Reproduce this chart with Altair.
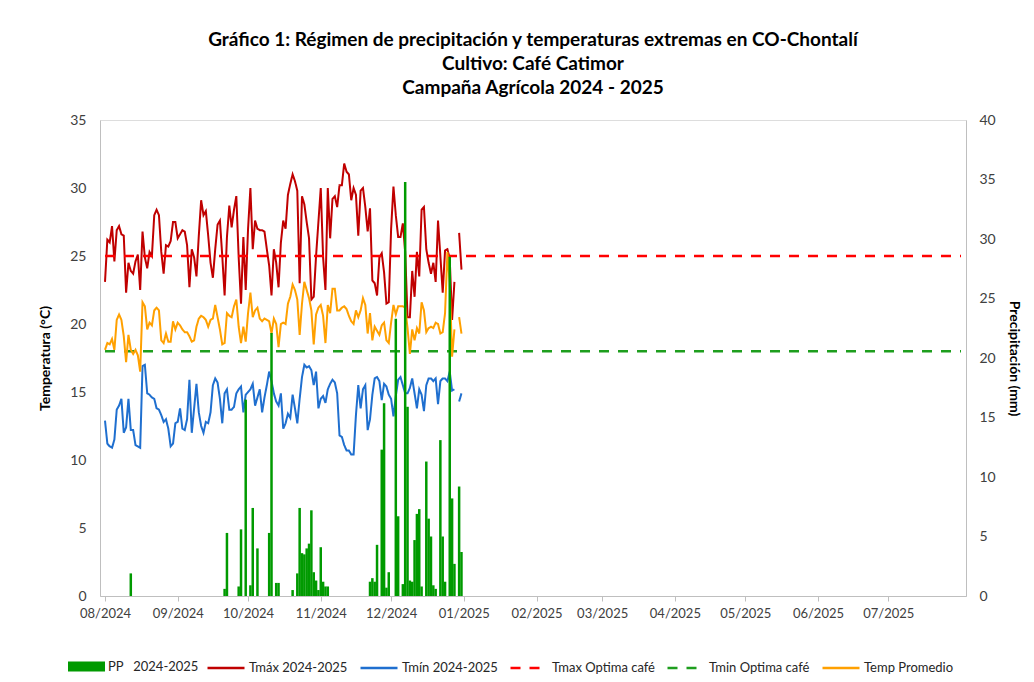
import altair as alt
import pandas as pd

# ---------------- data (daily, 1 Aug 2024 .. 31 Dec 2024) ----------------
start_date = "2024-08-01"

tmax = [23.1, 26.2, 26.0, 27.2, 24.6, 26.9, 27.2, 26.6, 26.5, 22.3,
        24.5, 23.9, 23.7, 24.6, 25.1, 22.5, 26.8, 24.9, 24.1, 25.3,
        25.0, 28.0, 28.4, 28.0, 25.3, 23.7, 25.8, 25.7, 26.1, 27.5,
        27.5, 26.3, 26.6, 26.9, 26.8, 25.8, 22.7, 25.5, 24.9, 23.5,
        26.5, 29.1, 28.0, 28.3, 26.5, 24.5, 23.4, 25.5, 27.3, 27.6,
        25.0, 22.1, 26.4, 28.7, 27.1, 28.4, 29.4, 24.9, 21.5, 26.4,
        22.5, 27.0, 30.0, 25.5, 27.6, 27.0, 26.9, 26.9, 26.8, 25.5,
        24.3, 22.1, 25.5, 24.5, 22.7, 26.0, 27.6, 27.0, 29.5, 30.3,
        31.0, 30.5, 29.8, 23.0, 29.4, 28.8, 27.5, 26.3, 21.8, 22.0,
        25.0, 27.5, 30.0, 24.9, 22.5, 30.0, 26.3, 29.2, 29.4, 28.6,
        30.2, 30.2, 31.8, 31.2, 31.0, 29.1, 30.0, 29.5, 26.5, 29.8,
        30.0, 28.6, 26.8, 28.5, 23.2, 23.0, 22.1, 24.9, 25.2, 23.8,
        21.5, 21.6, 27.0, 30.1, 28.0, 26.4, 26.4, 27.4, 25.3, 20.5,
        20.5, 23.9, 22.0, 25.3, 23.5, 28.4, 28.6, 25.5, 24.5, 23.7,
        24.5, 23.1, 27.6, 25.0, 22.3, 25.4, 25.5, 24.8, 20.3, 23.1,
        None, 26.7, 24.0]

tmin = [12.9, 11.2, 11.0, 10.9, 11.5, 13.7, 14.0, 14.5, 12.0, 12.4,
        14.5, 12.2, 12.2, 11.1, 11.0, 10.9, 16.9, 17.0, 14.9, 14.8,
        14.6, 14.5, 13.8, 13.7, 13.3, 12.8, 13.0, 12.3, 11.0, 11.2,
        12.7, 12.8, 13.8, 12.3, 12.2, 13.0, 15.9, 12.0, 13.8, 15.6,
        13.5, 12.5, 12.0, 12.8, 12.7, 13.5, 15.5, 16.0, 15.7, 14.5,
        12.7, 14.9, 15.2, 13.7, 13.7, 13.9, 14.9, 15.2, 15.4, 13.5,
        14.8, 15.0, 15.2, 15.6, 14.0, 14.6, 15.2, 13.5, 14.6, 15.5,
        16.5, 15.8, 14.9, 14.3, 14.0, 14.9, 12.3, 12.7, 13.4, 13.1,
        14.8, 13.8, 12.7, 14.5, 16.1, 17.0, 16.8, 16.9, 16.6, 15.5,
        16.5, 13.8, 14.5, 14.7, 14.2, 15.2, 15.6, 15.9, 15.7, 14.9,
        11.8, 11.7, 11.1, 10.7, 10.7, 10.4, 10.4, 13.3, 15.5, 13.8,
        15.2, 15.5, 12.2, 13.0, 14.8, 16.0, 16.1, 15.8, 14.4, 15.6,
        15.4, 14.8, 14.5, 13.2, 14.7, 15.9, 16.1, 15.5, 14.9, 14.9,
        15.3, 16.0, 14.9, 13.8, 15.2, 14.8, 13.6, 15.5, 16.0, 16.0,
        15.8, 16.0, 14.1, 15.8, 16.0, 16.0, 15.8, 16.5, 15.1, 15.2,
        None, 14.3, 14.9]

tprom = [18.1, 18.6, 18.5, 18.9, 18.1, 20.3, 20.7, 20.3, 19.1, 17.2,
         19.2, 18.1, 17.8, 18.1, 17.7, 16.5, 21.6, 21.3, 19.6, 20.1,
         19.9, 21.0, 21.2, 21.0, 18.8, 18.6, 19.3, 18.7, 18.7, 20.2,
         19.6, 20.1, 19.9, 19.6, 19.4, 19.4, 19.1, 18.7, 18.8, 19.8,
         20.4, 20.6, 20.5, 20.3, 19.8, 20.3, 20.4, 21.4, 20.5, 19.6,
         18.5, 18.6, 20.8, 20.6, 20.5, 21.3, 21.8, 19.8, 18.6, 19.8,
         18.7, 20.8, 22.3, 20.5, 21.0, 21.2, 20.4, 20.2, 20.4, 20.3,
         20.2, 19.3, 20.4, 20.0, 18.3, 20.0, 20.1, 20.0, 21.5, 22.0,
         22.9, 22.5, 21.8, 19.2, 21.5, 23.1, 22.5, 21.9, 21.0, 18.5,
         20.7, 21.2, 21.4, 20.6, 18.6, 21.4, 20.8, 22.6, 22.6, 21.0,
         21.0, 21.2, 21.3, 21.1, 20.6, 20.2, 20.0, 21.0, 20.5, 21.0,
         21.9, 21.4, 19.3, 20.8, 18.8, 19.8, 19.5, 19.2, 19.9, 20.1,
         18.8, 18.6, 20.1, 21.4, 20.7, 21.3, 21.3, 21.3, 21.2, 19.7,
         17.8, 19.6, 18.8, 19.7, 19.3, 21.6, 21.0, 19.4, 19.7, 19.8,
         19.7, 20.1, 20.0, 19.3, 19.4, 20.8, 25.3, 23.0, 17.6, 19.6,
         None, 20.5, 19.3]

pp = [0, 0, 0, 0, 0, 0, 0, 0, 0, 0,
      0, 1.9, 0, 0, 0, 0, 0, 0, 0, 0,
      0, 0, 0, 0, 0, 0, 0, 0, 0, 0,
      0, 0, 0, 0, 0, 0, 0, 0, 0, 0,
      0, 0, 0, 0, 0, 0, 0, 0, 0, 0,
      0, 0.6, 5.3, 0, 0, 0, 0, 0.8, 5.6, 0,
      16.5, 0, 0.9, 7.4, 0, 4.0, 0, 0, 0, 0,
      5.3, 22.1, 0, 1.1, 1.1, 0, 0, 0, 0, 0,
      0.5, 0, 1.9, 7.4, 3.6, 3.5, 4.0, 4.4, 7.2, 2.0,
      1.3, 0.5, 4.1, 1.2, 0.8, 0.8, 0, 0, 0, 0,
      0, 0, 0, 0, 0, 0, 0, 0, 0, 0,
      0, 0, 0, 1.2, 1.5, 1.2, 4.3, 0, 12.3, 16.2,
      0.7, 2.0, 0, 0, 23.3, 6.7, 0, 1.0, 34.8, 15.9,
      1.3, 1.2, 4.7, 6.9, 7.3, 0.8, 0, 11.3, 6.5, 5.0,
      0.9, 0.6, 0, 13.1, 5.0, 1.2, 0, 28.5, 8.2, 2.7,
      0, 9.2, 3.7]

tmax_optima = 25
tmin_optima = 18

pp_name = "PP\u00a0\u00a0 2024-2025"
pp_color = "#009A00"
line_names = ["Tmáx 2024-2025", "Tmín 2024-2025", "Tmax Optima café",
              "Tmin Optima café", "Temp Promedio"]
line_colors = ["#C00000", "#1F6FCF", "#FF0000", "#1E9E1E", "#FFA000"]
line_dashes = [[1, 0], [1, 0], [10, 9], [10, 9], [1, 0]]

axis_start = "2024-08-01"
axis_end = "2025-08-01"
month_ticks = ["2024-08-01", "2024-09-01", "2024-10-01", "2024-11-01", "2024-12-01",
               "2025-01-01", "2025-02-01", "2025-03-01", "2025-04-01", "2025-05-01",
               "2025-06-01", "2025-07-01"]

title_lines = ["Gráfico 1: Régimen de precipitación y temperaturas extremas en CO-Chontalí",
               "Cultivo: Café Catimor",
               "Campaña Agrícola 2024 - 2025"]

# ---------------- tables ----------------
fechas = pd.date_range(start_date, periods=len(tmax), freq="D").strftime("%Y-%m-%d")
TMAX, TMIN, TMAXO, TMINO, TPROM = line_names

pp_df = pd.DataFrame({"fecha": fechas, "valor": pp, "serie": pp_name})
pp_df = pp_df[pp_df["valor"] > 0]

lines_df = pd.concat([
    pd.DataFrame({"fecha": fechas, "valor": tmax, "serie": TMAX}),
    pd.DataFrame({"fecha": fechas, "valor": tmin, "serie": TMIN}),
])
prom_df = pd.DataFrame({"fecha": fechas, "valor": tprom, "serie": TPROM})
opt_df = pd.DataFrame({
    "fecha": [axis_start, axis_end, axis_start, axis_end],
    "valor": [tmax_optima, tmax_optima, tmin_optima, tmin_optima],
    "serie": [TMAXO, TMAXO, TMINO, TMINO],
})


def dt(s):
    y, m, d = (int(p) for p in s.split("-"))
    return alt.DateTime(year=y, month=m, date=d, utc=True)


FONT = "Lato"
x_scale = alt.Scale(type="utc", domain=[dt(axis_start), dt(axis_end)])
x_axis = alt.Axis(values=[dt(s) for s in month_ticks], format="%m/%Y", title=None,
                  labelFont=FONT, labelFontSize=13, labelColor="#404040",
                  labelFlush=False, labelOverlap=False, labelPadding=6,
                  tickColor="#BFBFBF", tickSize=5, domainColor="#BFBFBF", grid=False)

left_axis = alt.Axis(orient="left", values=list(range(0, 36, 5)), title="Temperatura (°C)",
                     titleFont=FONT, titleFontSize=14, titleFontWeight="bold", titleColor="#000000",
                     titlePadding=17, labelFont=FONT, labelFontSize=14, labelColor="#404040",
                     labelPadding=14, ticks=False, domainColor="#BFBFBF", grid=False)
right_axis = alt.Axis(orient="right", values=list(range(0, 41, 5)), title="Precipitación (mm)",
                      titleFont=FONT, titleFontSize=14, titleFontWeight="bold", titleColor="#000000",
                      titlePadding=11, labelFont=FONT, labelFontSize=14, labelColor="#404040",
                      labelPadding=13, ticks=False, domainColor="#BFBFBF", grid=False)

pp_legend = alt.Legend(title=None, orient="none", legendX=-32, legendY=528,
                       symbolType="M-1,-0.27H1V0.27H-1Z", symbolSize=1369,
                       symbolStrokeWidth=0, symbolOpacity=1,
                       labelFont=FONT, labelFontSize=13, labelColor="#262626", labelOffset=3)
line_legend = alt.Legend(title=None, orient="none", legendX=106, legendY=528,
                         direction="horizontal", columns=5, symbolType="stroke",
                         symbolSize=1369, symbolStrokeWidth=2.5, symbolOpacity=1,
                         labelFont=FONT, labelFontSize=13, labelColor="#262626",
                         labelOffset=3, columnPadding=7)

color_enc = alt.Color("serie:N", scale=alt.Scale(domain=line_names, range=line_colors),
                      legend=line_legend)
dash_enc = alt.StrokeDash("serie:N", scale=alt.Scale(domain=line_names, range=line_dashes),
                          legend=line_legend)

y_temp = alt.Y("valor:Q", scale=alt.Scale(domain=[0, 35], nice=False), axis=left_axis)
x_enc = alt.X("fecha:T", scale=x_scale, axis=x_axis)

bars = alt.Chart(pp_df).mark_bar(size=2.5).encode(
    x=x_enc,
    y=alt.Y("valor:Q", scale=alt.Scale(domain=[0, 40], nice=False), axis=right_axis),
    fill=alt.Fill("serie:N", scale=alt.Scale(domain=[pp_name], range=[pp_color]),
                  legend=pp_legend),
)

temp_lines = alt.Chart(lines_df).mark_line(strokeWidth=2, invalid="break-paths-show-domains").encode(
    x=x_enc, y=y_temp, color=color_enc, strokeDash=dash_enc)
opt_lines = alt.Chart(opt_df).mark_line(strokeWidth=2.6).encode(
    x=x_enc, y=y_temp, color=color_enc, strokeDash=dash_enc)
prom_line = alt.Chart(prom_df).mark_line(strokeWidth=2, invalid="break-paths-show-domains").encode(
    x=x_enc, y=y_temp, color=color_enc, strokeDash=dash_enc)

temps = alt.layer(temp_lines, opt_lines, prom_line)

chart = alt.layer(temps, bars).resolve_scale(y="independent").properties(
    width=866, height=476,
    padding={"left": 92, "top": 112, "right": 60, "bottom": 78},
    autosize=alt.AutoSizeParams(type="none"),
    title=alt.Title(title_lines, font=FONT, fontSize=19, fontWeight="bold", color="#000000",
                    anchor="middle", lineHeight=23.8, offset=15),
).configure_view(strokeWidth=0).configure(background="white")

chart.save("out.html", embed_options={"renderer": "svg", "actions": False})
